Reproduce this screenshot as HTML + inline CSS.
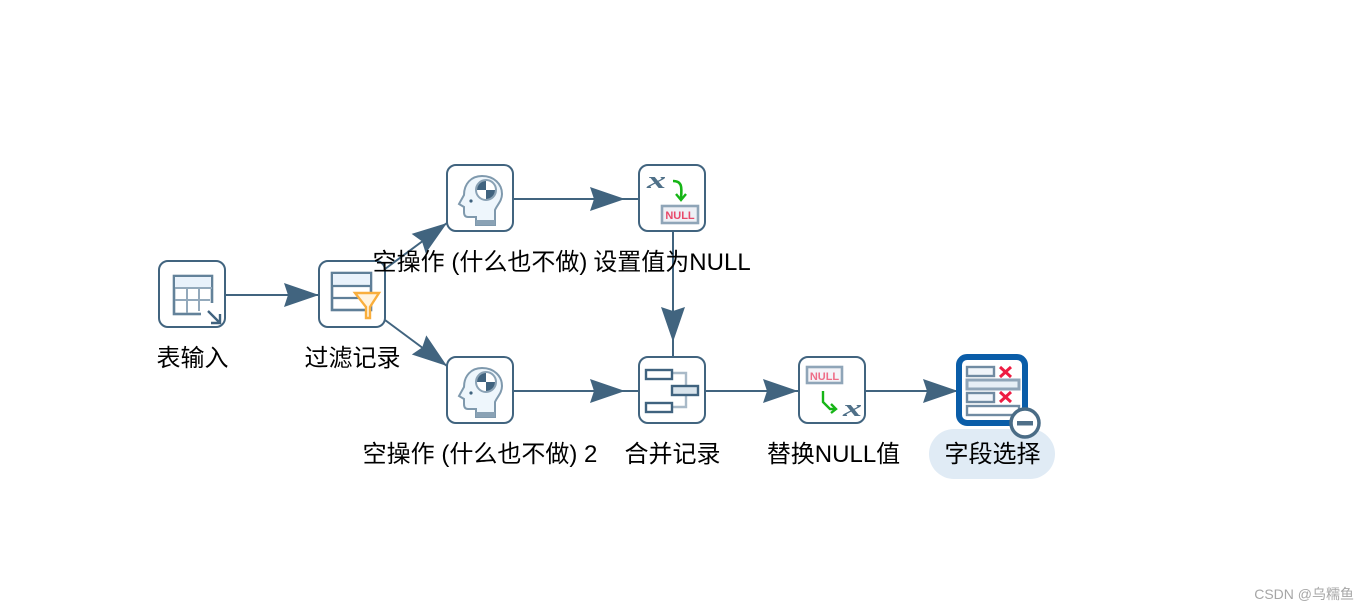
<!DOCTYPE html>
<html><head><meta charset="utf-8"><style>
html,body{margin:0;padding:0;background:#fff}
svg{display:block}
text{font-family:"Liberation Sans","Noto Sans CJK SC",sans-serif;font-size:24px;fill:#000}
</style></head><body>
<svg width="1370" height="610" viewBox="0 0 1370 610" xmlns="http://www.w3.org/2000/svg">
<defs>
<filter id="sf" x="-10%" y="-10%" width="120%" height="120%"><feGaussianBlur stdDeviation="0.35"/></filter>
<path id="ah" d="M-35,-12 L0,0 L-35,12 L-31,0 Z" fill="#41647f"/>
<g id="head">
<path d="M35,11 C47,11 55,19 55,29 C55,36 50,40 48,45 L48,60 L29,60 L29,52 L21,52 C18,52 17,50 17,47 L17,42 L12,39 L17,30 C17,19 24,11 35,11 Z" fill="#eef6fc" stroke="#7f99ad" stroke-width="2"/>
<path d="M29,55 H48 V60 H29 Z" fill="#8aa2b5"/>
<circle cx="39" cy="25" r="10" fill="#fff" stroke="#8aa2b5" stroke-width="2"/>
<path d="M39,25 V16 A9,9 0 0 0 30,25 Z M39,25 V34 A9,9 0 0 0 48,25 Z" fill="#41647f"/>
<circle cx="24" cy="36" r="1.6" fill="#41647f"/>
</g>
</defs>

<!-- connectors -->
<g stroke="#41647f" stroke-width="2" fill="none">
<path d="M225,295 H319"/>
<path d="M385,269 L447,223"/>
<path d="M385,320 L447,366"/>
<path d="M513,199 H639"/>
<path d="M513,391 H639"/>
<path d="M673,231 V357"/>
<path d="M705,391 H799"/>
<path d="M865,391 H959"/>
</g>
<use href="#ah" transform="translate(319,295)"/>
<use href="#ah" transform="translate(447,223) rotate(-36)"/>
<use href="#ah" transform="translate(447,366) rotate(37)"/>
<use href="#ah" transform="translate(625,199)"/>
<use href="#ah" transform="translate(625,391)"/>
<use href="#ah" transform="translate(673,342) rotate(90)"/>
<use href="#ah" transform="translate(798,391)"/>
<use href="#ah" transform="translate(958,391)"/>

<!-- node boxes -->
<g fill="#fff" stroke="#41647f" stroke-width="2">
<rect x="159" y="261" width="66" height="66" rx="9"/>
<rect x="319" y="261" width="66" height="66" rx="9"/>
<rect x="447" y="165" width="66" height="66" rx="9"/>
<rect x="639" y="165" width="66" height="66" rx="9"/>
<rect x="447" y="357" width="66" height="66" rx="9"/>
<rect x="639" y="357" width="66" height="66" rx="9"/>
<rect x="799" y="357" width="66" height="66" rx="9"/>
</g>

<g filter="url(#sf)">
<!-- table input icon -->
<rect x="174" y="276" width="38" height="38" fill="#fff" stroke="#64829a" stroke-width="2.6"/>
<rect x="175" y="277" width="36" height="10" fill="#e9f2fb"/>
<path d="M175,288 H212 M175,300 H210 M187,288 V313 M199,288 V311" stroke="#93a9bb" stroke-width="2" fill="none"/>
<rect x="201" y="303" width="20" height="20" fill="#fff"/>
<path d="M208,311 L219,322 M220,314 V323 H211" stroke="#41647f" stroke-width="2.4" fill="none"/>

<!-- filter icon -->
<rect x="332" y="273" width="39" height="37" fill="#fff" stroke="#5f7f98" stroke-width="2.6"/>
<rect x="333" y="274" width="37" height="11" fill="#e9f2fb"/>
<path d="M332,286 H371 M332,298 H362" stroke="#5f7f98" stroke-width="2.2" fill="none"/>
<path d="M355,293 H379 L370,307 V318 H366 V307 Z" fill="#fff3df" stroke="#f9ae3c" stroke-width="2.4"/>

<!-- heads -->
<use href="#head" transform="translate(447,165)"/>
<use href="#head" transform="translate(447,357)"/>

<!-- set null icon -->
<text x="647" y="188" textLength="19" lengthAdjust="spacingAndGlyphs" style="font-family:'Liberation Serif',serif;font-size:24px;font-style:italic;font-weight:bold;fill:#4f6f88">x</text>
<path d="M673,181 C682,181 682,187 681,198" stroke="#19b519" stroke-width="2.6" fill="none"/>
<path d="M676,194 L681,200 L686,194" stroke="#19b519" stroke-width="2.4" fill="none"/>
<rect x="662" y="206" width="36" height="17" fill="#eef0f6" stroke="#8fa5b8" stroke-width="2.6"/>
<text x="680" y="219" text-anchor="middle" style="font-size:11px;font-weight:bold;fill:#e8486a">NULL</text>

<!-- merge icon -->
<path d="M672,373 H686 V407 H672" stroke="#a9bac8" stroke-width="2.4" fill="none"/>
<rect x="646" y="370" width="26" height="9" fill="#fff" stroke="#41647f" stroke-width="2.4"/>
<rect x="672" y="386" width="26" height="9" fill="#d9e4ec" stroke="#41647f" stroke-width="2.4"/>
<rect x="646" y="403" width="26" height="9" fill="#fff" stroke="#41647f" stroke-width="2.4"/>

<!-- replace null icon -->
<rect x="807" y="367" width="35" height="16" fill="#f3f3f8" stroke="#8fa5b8" stroke-width="2.6"/>
<text x="824.5" y="380" text-anchor="middle" style="font-size:11px;font-weight:bold;fill:#ee6d88">NULL</text>
<path d="M823,391 V402 L830,409 H835" stroke="#19b519" stroke-width="2.4" fill="none"/>
<path d="M831,404 L836,409 L831,413" stroke="#19b519" stroke-width="2.4" fill="none"/>
<text x="843" y="416" textLength="19" lengthAdjust="spacingAndGlyphs" style="font-family:'Liberation Serif',serif;font-size:24px;font-style:italic;font-weight:bold;fill:#4f6f88">x</text>
</g>

<!-- select values -->
<rect x="959" y="357" width="66" height="66" rx="8" fill="#fff" stroke="#0a5da8" stroke-width="6"/>
<g filter="url(#sf)">
<rect x="967" y="367" width="27" height="9" fill="#f0f5fa" stroke="#6f8ba2" stroke-width="2.4"/>
<rect x="967" y="380" width="52" height="9" fill="#e6eff6" stroke="#8fa5b8" stroke-width="3"/>
<rect x="967" y="393" width="27" height="9" fill="#f0f5fa" stroke="#6f8ba2" stroke-width="2.4"/>
<rect x="967" y="406" width="52" height="9" fill="#fff" stroke="#6f8ba2" stroke-width="2.4"/>
<path d="M1000,367 L1011,377 M1011,367 L1000,377 M1000,392 L1011,402 M1011,392 L1000,402" stroke="#ee1c43" stroke-width="3" fill="none"/>
</g>
<rect x="929" y="429" width="126" height="50" rx="25" fill="#e0ebf5"/>
<circle cx="1025" cy="423" r="14" fill="#fff" stroke="#4a6c86" stroke-width="3.5"/>
<rect x="1017" y="421" width="16" height="4.5" fill="#4f6f88"/>

<!-- labels -->
<text x="192.5" y="366" text-anchor="middle">表输入</text>
<text x="352.5" y="366" text-anchor="middle">过滤记录</text>
<text x="480" y="270" text-anchor="middle">空操作 (什么也不做)</text>
<text x="672" y="270" text-anchor="middle">设置值为NULL</text>
<text x="480" y="462" text-anchor="middle">空操作 (什么也不做) 2</text>
<text x="672.5" y="462" text-anchor="middle">合并记录</text>
<text x="833.5" y="462" text-anchor="middle">替换NULL值</text>
<text x="992.5" y="462" text-anchor="middle">字段选择</text>

<text x="1354" y="599" text-anchor="end" style="font-size:14px;fill:#a6a6a6">CSDN @乌糯鱼</text>
</svg>
</body></html>
